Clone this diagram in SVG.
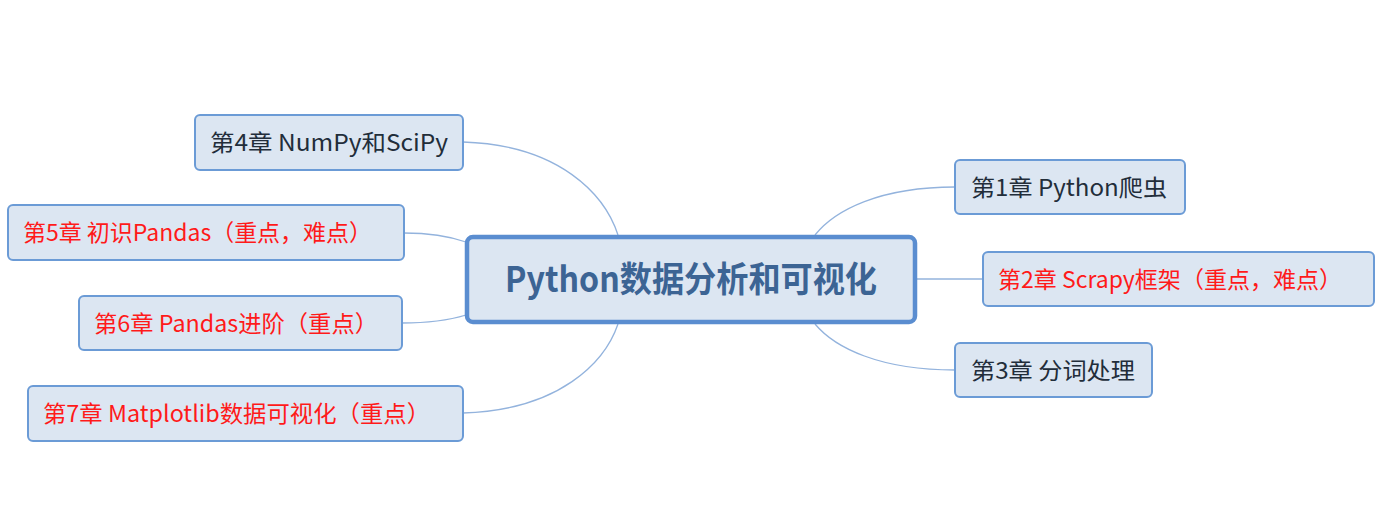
<svg xmlns="http://www.w3.org/2000/svg" width="1378" height="508" viewBox="0 0 1378 508">
<style>
.bg{fill:#ffffff}
.box{fill:#dce6f2;stroke:#6b9bd6;stroke-width:2}
.root{fill:#dce6f2;stroke:#5a8dd0;stroke-width:4.5}
.conn path{fill:none;stroke:#93b3dd;stroke-width:1.3}
.t{font-family:"Noto Sans CJK SC","Microsoft YaHei",sans-serif;font-size:23px}
.dark{fill:#222d3a}
.red{fill:#ff1a1a}
.rt{font-family:"Noto Sans CJK SC","Microsoft YaHei",sans-serif;font-size:35px;font-weight:bold;fill:#3c6494}
</style>
<rect class="bg" x="0" y="0" width="1378" height="508"/>
<g id="connectors" class="conn">
<path d="M463,142 C560,145 605,195 618,235"/>
<path d="M404,233 Q440,233 466,242"/>
<path d="M402,323 Q440,323 466,315"/>
<path d="M463,413 C560,410 605,362 618,324"/>
<path d="M955,187 C880,187 835,210 815,235"/>
<path d="M917,279 L983,279"/>
<path d="M955,370 C880,370 835,348 815,324"/>
</g>
<g id="root">
<rect class="root" x="467" y="237" width="448" height="85" rx="6"/>
<text class="rt" x="691" y="292" text-anchor="middle" textLength="372" lengthAdjust="spacingAndGlyphs">Python数据分析和可视化</text>
</g>
<g id="n4">
<rect class="box" x="195" y="115" width="268" height="55" rx="5"/>
<text class="t dark" x="210" y="151" textLength="238" lengthAdjust="spacingAndGlyphs">第4章 NumPy和SciPy</text>
</g>
<g id="n5">
<rect class="box" x="8" y="205" width="396" height="55" rx="5"/>
<text class="t red" x="23" y="241" textLength="349" lengthAdjust="spacingAndGlyphs">第5章 初识Pandas（重点，难点）</text>
</g>
<g id="n6">
<rect class="box" x="79" y="296" width="323" height="54" rx="5"/>
<text class="t red" x="94" y="332" textLength="284" lengthAdjust="spacingAndGlyphs">第6章 Pandas进阶（重点）</text>
</g>
<g id="n7">
<rect class="box" x="28" y="386" width="435" height="55" rx="5"/>
<text class="t red" x="43" y="422" textLength="387" lengthAdjust="spacingAndGlyphs">第7章 Matplotlib数据可视化（重点）</text>
</g>
<g id="n1">
<rect class="box" x="955" y="160" width="230" height="54" rx="5"/>
<text class="t dark" x="971" y="196" textLength="196" lengthAdjust="spacingAndGlyphs">第1章 Python爬虫</text>
</g>
<g id="n2">
<rect class="box" x="983" y="252" width="391" height="54" rx="5"/>
<text class="t red" x="998" y="288" textLength="344" lengthAdjust="spacingAndGlyphs">第2章 Scrapy框架（重点，难点）</text>
</g>
<g id="n3">
<rect class="box" x="955" y="343" width="197" height="54" rx="5"/>
<text class="t dark" x="971" y="379" textLength="164" lengthAdjust="spacingAndGlyphs">第3章 分词处理</text>
</g>
</svg>
